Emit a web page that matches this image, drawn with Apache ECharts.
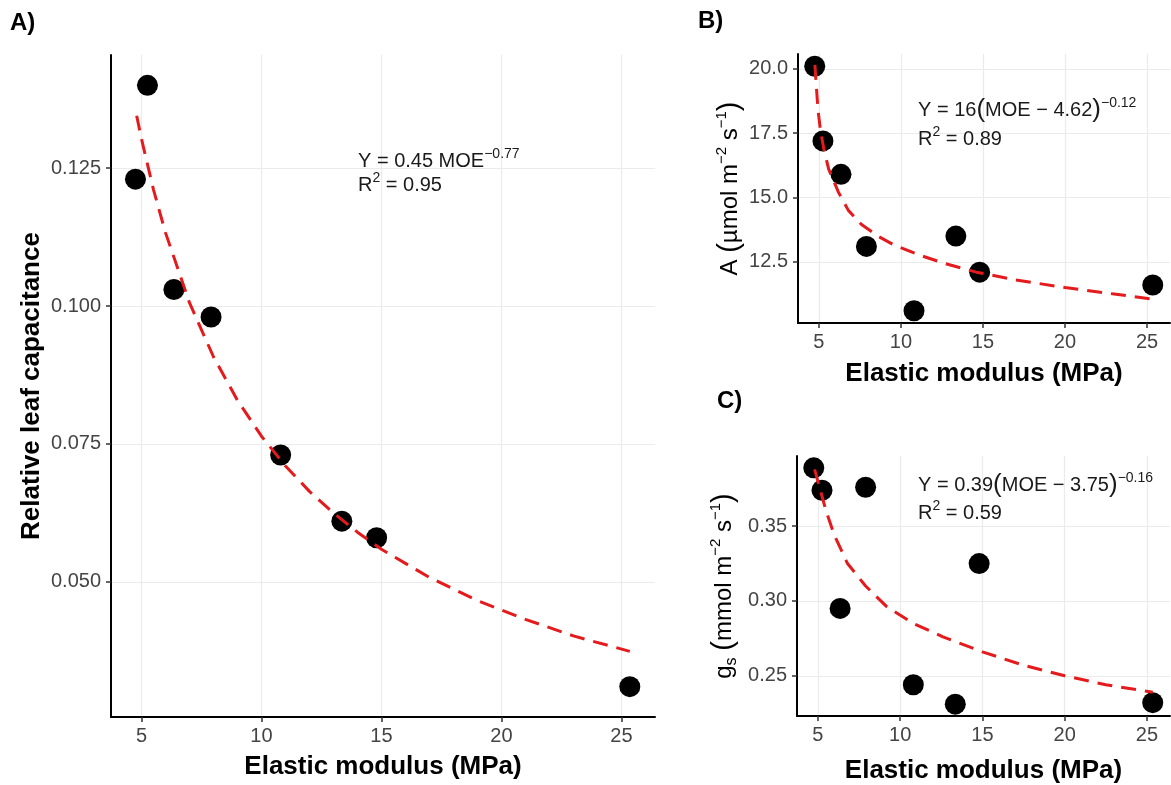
<!DOCTYPE html>
<html><head><meta charset="utf-8">
<script src="https://cdn.jsdelivr.net/npm/echarts@6/dist/echarts.min.js"></script>
<style>html,body{margin:0;padding:0;background:#fff}#c{width:1171px;height:785px}</style>
</head><body><div id="c"></div>
<script>
// ---- data ----
const moe = [4.75, 5.25, 6.35, 7.9, 10.8, 13.35, 14.8, 25.35];
const capacitance = [0.123, 0.140, 0.103, 0.098, 0.073, 0.061, 0.058, 0.031];
const photosynthesis = [20.1, 17.2, 15.9, 13.1, 10.6, 13.5, 12.1, 11.6];
const conductance = [0.389, 0.374, 0.295, 0.376, 0.244, 0.231, 0.325, 0.232];

// fitted dashed curves
const fitAx = [4.8, 5, 5.5, 6, 7, 8, 9, 10, 11, 12, 13, 14, 15, 17, 19, 21, 23, 25.35];
const fitAy = [0.1345, 0.1303, 0.1211, 0.1133, 0.1006, 0.0908, 0.0829, 0.0764, 0.0710, 0.0664, 0.0625, 0.0590, 0.0559, 0.0508, 0.0466, 0.0432, 0.0402, 0.0374];
const fitBx = [4.76, 4.85, 4.95, 5.1, 5.3, 5.6, 6.2, 6.8, 7.6, 8.6, 9.6, 11.2, 12.6, 14.6, 17, 20, 23, 25.35];
const fitBy = [20.15, 19.3, 18.4, 17.6, 16.9, 16.1, 15.2, 14.5, 13.95, 13.5, 13.15, 12.75, 12.45, 12.1, 11.8, 11.5, 11.25, 11.05];
const fitCx = [4.8, 5.3, 5.5, 6.0, 6.8, 7.9, 9.2, 10.8, 12.6, 15, 17.5, 20, 22.5, 25.35];
const fitCy = [0.388, 0.368, 0.360, 0.344, 0.325, 0.310, 0.296, 0.285, 0.276, 0.266, 0.257, 0.250, 0.244, 0.239];

// tick labels
const xTicks = [5, 10, 15, 20, 25];
const aTicks = [0.050, 0.075, 0.100, 0.125];
const bTicks = [12.5, 15.0, 17.5, 20.0];
const cTicks = [0.25, 0.30, 0.35];

const xTitle = 'Elastic modulus (MPa)';
const aTitle = 'Relative leaf capacitance';

// ---- chart ----
const FONT = '"Liberation Sans", Arial, Helvetica, sans-serif';
const RED = '#e41a1c';
const zip = (a, b) => a.map((v, i) => [v, b[i]]);

function makeX(gi, gap) {
  return {
    gridIndex: gi, type: 'value', min: 3.73, max: 26.4,
    axisLine: { show: true, onZero: false, lineStyle: { color: '#000', width: 2 } },
    axisTick: { show: true, length: 5, lineStyle: { color: '#333', width: 1.5 }, customValues: xTicks },
    axisLabel: { customValues: xTicks, margin: 9, color: '#444', fontSize: 20, fontFamily: FONT },
    splitLine: { show: true, lineStyle: { color: '#ebebeb', width: 1.2 } },
    name: xTitle, nameLocation: 'middle', nameGap: gap,
    nameTextStyle: { fontWeight: 'bold', fontSize: 26, color: '#000', fontFamily: FONT }
  };
}
function makeY(gi, min, max, ticks, dec, name, gap, rich) {
  return {
    gridIndex: gi, type: 'value', min: min, max: max,
    axisLine: { show: true, onZero: false, lineStyle: { color: '#000', width: 2 } },
    axisTick: { show: true, length: 5, lineStyle: { color: '#333', width: 1.5 }, customValues: ticks },
    axisLabel: { customValues: ticks, margin: 10, color: '#444', fontSize: 20, fontFamily: FONT,
      formatter: v => Number(v).toFixed(dec) },
    splitLine: { show: true, lineStyle: { color: '#ebebeb', width: 1.2 } },
    name: name, nameLocation: 'middle', nameRotate: 90, nameGap: gap,
    nameTextStyle: rich
  };
}
const unitRich = {
  color: '#000', fontFamily: FONT,
  rich: {
    t: { fontSize: 24, lineHeight: 32, fontFamily: FONT, color: '#000' },
    p: { fontSize: 29, lineHeight: 32, fontFamily: FONT, color: '#000' },
    sup: { fontSize: 15, lineHeight: 15, verticalAlign: 'top', fontFamily: FONT, color: '#000' },
    sub: { fontSize: 16, lineHeight: 15, verticalAlign: 'bottom', fontFamily: FONT, color: '#000' }
  }
};

function scatter(xi, yVals) {
  return { type: 'scatter', xAxisIndex: xi, yAxisIndex: xi, data: zip(moe, yVals),
    symbol: 'circle', symbolSize: 21, itemStyle: { color: '#000', opacity: 1 }, z: 2 };
}
function fit(xi, xs, ys) {
  return { type: 'line', xAxisIndex: xi, yAxisIndex: xi, data: zip(xs, ys),
    showSymbol: false, smooth: false,
    lineStyle: { color: RED, width: 3, type: [15, 9] }, z: 3 };
}

const annRich = {
  t: { fontSize: 20, lineHeight: 28, fontFamily: FONT, fill: '#1a1a1a' },
  p: { fontSize: 26, lineHeight: 28, fontFamily: FONT, fill: '#1a1a1a' },
  s: { fontSize: 14, lineHeight: 13, verticalAlign: 'top', fontFamily: FONT, fill: '#1a1a1a' }
};
function ann(x, y, text) {
  return { type: 'text', x: x, y: y, z: 10, style: { text: text, rich: annRich, fill: '#1a1a1a',
    font: '20px ' + FONT, verticalAlign: 'top', align: 'left' } };
}
function panelLabel(x, y, text) {
  return { type: 'text', x: x, y: y, z: 10, style: { text: text, fill: '#000',
    font: 'bold 24px ' + FONT, verticalAlign: 'top' } };
}

const chart = echarts.init(document.getElementById('c'), null, { renderer: 'canvas' });
chart.setOption({
  animation: false,
  backgroundColor: '#fff',
  grid: [
    { left: 111, top: 55, width: 544, height: 670 },
    { left: 798, top: 54, width: 372, height: 269 },
    { left: 797, top: 456, width: 373, height: 269 }
  ],
  xAxis: [makeX(0, 37), makeX(1, 38), makeX(2, 42)],
  yAxis: [
    makeY(0, 0.0255, 0.1455, aTicks, 3, aTitle, 66,
      { fontWeight: 'bold', fontSize: 26, color: '#000', fontFamily: FONT }),
    makeY(1, 10.125, 20.575, bTicks, 1,
      '{t|A }{p|(}{t|µmol m}{sup|−2}{t| s}{sup|−1}{p|)}', 52, unitRich),
    makeY(2, 0.2231, 0.3969, cTicks, 2,
      '{t|g}{sub|s}{t| }{p|(}{t|mmol m}{sup|−2}{t| s}{sup|−1}{p|)}', 57, unitRich)
  ],
  series: [
    scatter(0, capacitance), fit(0, fitAx, fitAy),
    scatter(1, photosynthesis), fit(1, fitBx, fitBy),
    scatter(2, conductance), fit(2, fitCx, fitCy)
  ],
  graphic: [
    panelLabel(10, 11, 'A)'), panelLabel(698, 9, 'B)'), panelLabel(717, 389, 'C)'),
    ann(358, 147, '{t|Y = 0.45 MOE}{s|−0.77}'),
    ann(358, 171, '{t|R}{s|2}{t| = 0.95}'),
    ann(918, 96, '{t|Y = 16}{p|(}{t|MOE − 4.62}{p|)}{s|−0.12}'),
    ann(918, 125, '{t|R}{s|2}{t| = 0.89}'),
    ann(918, 471, '{t|Y = 0.39}{p|(}{t|MOE − 3.75}{p|)}{s|−0.16}'),
    ann(918, 499, '{t|R}{s|2}{t| = 0.59}')
  ]
});
</script>
</body></html>
